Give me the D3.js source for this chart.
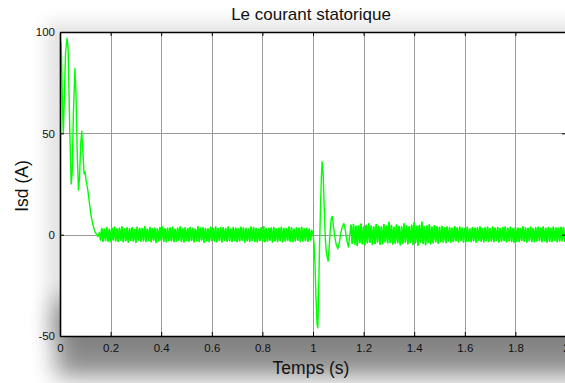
<!DOCTYPE html>
<html>
<head>
<meta charset="utf-8">
<script src="https://cdn.jsdelivr.net/npm/d3@7"></script>
<style>
  html, body { margin: 0; padding: 0; background: #fff; }
  svg { display: block; font-family: "Liberation Sans", Arial, sans-serif; }
</style>
</head>
<body>
<svg id="chart" width="565" height="383"></svg>
<script>
// Axis ticks
const xTicks = [0, 0.2, 0.4, 0.6, 0.8, 1, 1.2, 1.4, 1.6, 1.8, 2];
const xTickLabels = ["0", "0.2", "0.4", "0.6", "0.8", "1", "1.2", "1.4", "1.6", "1.8", "2"];
const yTicks = [-50, 0, 50, 100];
const yTickLabels = ["-50", "0", "50", "100"];
const xGrid = [0.2, 0.4, 0.6, 0.8, 1, 1.2, 1.4, 1.6, 1.8];
const yGrid = [0, 50];

// Start-up transient: time (s) and Isd (A)
const startT = [0, 0.0005, 0.003, 0.006, 0.010, 0.013, 0.016, 0.022, 0.028, 0.032, 0.038,
  0.044, 0.048, 0.053, 0.059, 0.063, 0.068, 0.073, 0.077, 0.082, 0.086, 0.090, 0.095,
  0.099, 0.104, 0.110, 0.116, 0.122, 0.128, 0.134, 0.140, 0.146, 0.150, 0.155];
const startV = [0, 73, 95, 88, 62, 50, 63, 90, 97, 92, 55,
  25, 30, 60, 82, 70, 40, 22, 28, 45, 51, 42, 30,
  31, 26, 22, 16, 10, 6, 3, 1, 0, -1, 1];

// Steady-state ripple, sampled every 5 ms
const rippleStep = 0.005;
const rippleAStart = 0.16;
const rippleA = [
  -2.6, 3.0, -3.2, 2.7, -2.9, 3.5, -3.1, 2.6, -3.4, 3.2, -2.5, 3.6,
  -3.0, 2.9, -3.3, 3.1, -2.7, 3.8, -3.5, 2.8, -2.9, 3.3, -3.6, 3.0,
  -2.8, 3.4, -3.1, 2.5, -3.7, 3.6, -2.6, 3.1, -3.2, 2.9, -3.0, 3.9,
  -3.3, 2.7, -2.9, 3.5, -3.4, 3.0, -2.7, 3.2, -3.8, 2.8, -3.1, 3.4,
  -2.6, 3.7, -3.2, 2.9, -3.5, 3.1, -2.8, 3.3, -3.0, 3.6, -3.4, 2.6,
  -3.1, 3.2, -2.7, 3.8, -3.3, 2.9, -3.6, 3.4, -2.9, 3.0, -3.2, 3.5,
  -2.8, 3.1, -3.5, 2.7, -3.0, 3.9, -3.3, 3.2, -2.6, 3.4, -3.7, 3.0,
  -3.0, 2.8, -3.4, 3.6, -2.9, 3.1, -3.1, 3.7, -3.5, 2.9, -2.8, 3.3,
  -3.6, 3.4, -2.7, 3.0, -3.2, 3.8, -3.0, 2.7, -3.3, 3.5, -2.9, 3.2,
  -3.4, 2.9, -3.1, 3.6, -2.6, 3.3, -3.7, 3.1, -3.0, 2.8, -3.2, 3.7,
  -2.9, 3.5, -3.3, 3.0, -3.5, 2.7, -2.8, 3.4, -3.1, 3.9, -3.4, 3.0,
  -3.2, 3.1, -2.7, 3.3, -3.6, 3.5, -3.0, 2.8, -3.3, 3.2, -2.9, 3.6,
  -3.5, 3.0, -3.1, 2.9, -2.8, 3.7, -3.2, 3.4, -3.4, 2.6, -3.0, 3.3,
  -2.7, 3.2, -3.3, 3.6, -3.1, 2.9, -2.9, 3.1, -3.2, 2.7, -2.6, 2.2];

// Load step response around t = 1 s
const stepT = [1.000, 1.004, 1.008, 1.012, 1.016, 1.019, 1.022, 1.026, 1.030, 1.033, 1.036,
  1.040, 1.044, 1.048, 1.052, 1.056, 1.060, 1.064, 1.068, 1.072, 1.076, 1.080, 1.086,
  1.092, 1.098, 1.104, 1.110, 1.116, 1.122, 1.128, 1.134, 1.140];
const stepV = [0, -4, -15, -32, -44, -46, -30, -5, 15, 28, 36,
  30, 15, 0, -8, -11, -13, -6, 2, 8, 9, 5, -1,
  -5, -7, -4, 1, 4, 5.5, 2, -3, -6];

const rippleBStart = 1.15;
const rippleB = [
  4.8, -4.2, 5.0, -4.6, 4.1, -5.3, 4.4, -3.9, 5.2, -4.4, 3.8, -4.9,
  4.6, -4.0, 5.4, -3.7, 4.3, -4.8, 3.9, -4.3, 5.0, -3.6, 4.1, -4.7,
  3.7, -4.4, 4.9, -3.5, 4.2, -4.0, 6.0, -3.8, 4.5, -4.6, 3.6, -4.1,
  4.7, -3.9, 4.0, -5.0, 3.8, -4.2, 5.3, -3.6, 4.4, -4.5, 3.9, -3.8,
  4.6, -4.7, 5.8, -4.0, 4.1, -5.2, 4.5, -3.7, 6.1, -4.3, 3.8, -4.9,
  4.2, -3.8, 4.9, -4.5, 3.7, -4.0, 4.4, -3.5, 3.9, -4.2, 3.6, -3.4,
  4.0, -3.6, 3.4, -3.9, 3.8, -3.2, 3.5, -3.7, 3.1, -3.4, 3.9, -3.0,
  3.3, -3.5, 3.7, -2.9, 3.2, -3.6, 3.0, -3.3, 3.6, -3.1, 2.8, -3.4,
  3.5, -3.0, 3.1, -3.7, 3.4, -2.8, 3.8, -3.2, 3.0, -3.5, 3.3, -2.9,
  3.6, -3.3, 2.9, -3.1, 3.7, -3.4, 3.2, -2.8, 3.5, -3.6, 3.0, -3.2,
  3.4, -2.9, 3.8, -3.5, 3.1, -3.0, 3.6, -3.3, 2.9, -3.7, 3.5, -3.1,
  3.2, -3.4, 3.0, -2.8, 3.9, -3.2, 3.3, -3.6, 3.1, -3.0, 3.7, -3.3,
  2.9, -3.5, 3.4, -3.1, 3.6, -2.9, 3.2, -3.4, 3.8, -3.0, 3.1, -3.6,
  3.5, -3.2, 3.0, -3.3, 3.7, -2.8, 3.3, -3.5, 3.2, -3.1, 3.6, -2.9,
  3.4, -3.2, 3.0];

const svg = d3.select("#chart");
const plot = { left: 60, right: 566, top: 32, bottom: 336 };

const x = d3.scaleLinear().domain([0, 2]).range([plot.left, plot.right]);
const y = d3.scaleLinear().domain([-50, 100]).range([plot.bottom, plot.top]);

// Soft drop shadows behind the figure
const defs = svg.append("defs");
function blurFilter(id, sd) {
  defs.append("filter").attr("id", id)
    .attr("x", "-50%").attr("y", "-50%").attr("width", "200%").attr("height", "200%")
    .append("feGaussianBlur").attr("stdDeviation", sd);
}
blurFilter("softLight", 9);
blurFilter("softDeep", 12);

// faint halo on the left and top
svg.append("rect")
  .attr("x", 46).attr("y", 22).attr("width", 600).attr("height", 318)
  .attr("fill", "#000").attr("opacity", 0.11).attr("filter", "url(#softLight)");
// heavier shadow under the x axis
svg.append("rect")
  .attr("x", 56).attr("y", 300).attr("width", 620).attr("height", 76)
  .attr("fill", "#000").attr("opacity", 0.46).attr("filter", "url(#softDeep)");

// Plot background
svg.append("rect")
  .attr("x", plot.left).attr("y", plot.top)
  .attr("width", plot.right - plot.left).attr("height", plot.bottom - plot.top)
  .attr("fill", "#fff");

defs.append("clipPath").attr("id", "clip").append("rect")
  .attr("x", plot.left).attr("y", plot.top)
  .attr("width", plot.right - plot.left).attr("height", plot.bottom - plot.top);

// Grid
const grid = svg.append("g").attr("stroke", "#9a9a9a").attr("stroke-width", 1);
grid.selectAll("line.gx").data(xGrid).join("line").attr("class", "gx")
  .attr("x1", d => Math.round(x(d)) + 0.5).attr("x2", d => Math.round(x(d)) + 0.5)
  .attr("y1", plot.top).attr("y2", plot.bottom);
grid.selectAll("line.gy").data(yGrid).join("line").attr("class", "gy")
  .attr("x1", plot.left).attr("x2", plot.right)
  .attr("y1", d => Math.round(y(d)) + 0.5).attr("y2", d => Math.round(y(d)) + 0.5);

// Build the trace
const seriesStart = startT.map((t, i) => [t, startV[i]]);
const seriesA = rippleA.map((v, i) => [rippleAStart + i * rippleStep, v]);
const seriesStep = stepT.map((t, i) => [t, stepV[i]]);
const seriesB = rippleB.map((v, i) => [rippleBStart + i * rippleStep, v]);
const trace = seriesStart.concat(seriesA, seriesStep, seriesB);

const line = d3.line().x(d => x(d[0])).y(d => y(d[1]));
const traceG = svg.append("g").attr("clip-path", "url(#clip)");
traceG.append("path").datum(trace)
  .attr("d", line).attr("fill", "none")
  .attr("stroke", "#00ff00").attr("stroke-width", 1.4).attr("stroke-linejoin", "round");
[seriesA, seriesB].forEach(seg => {
  traceG.append("path").datum(seg)
    .attr("d", line).attr("fill", "none")
    .attr("stroke", "#00ff00").attr("stroke-width", 1.6).attr("stroke-linejoin", "round");
});

// Axes
const fmtX = (d, i) => xTickLabels[i];
const fmtY = (d, i) => yTickLabels[i];

const axB = svg.append("g").attr("transform", `translate(0,${plot.bottom})`)
  .call(d3.axisBottom(x).tickValues(xTicks).tickFormat(fmtX)
    .tickSizeInner(-4).tickSizeOuter(0).tickPadding(8));
const axT = svg.append("g").attr("transform", `translate(0,${plot.top})`)
  .call(d3.axisTop(x).tickValues(xTicks).tickFormat("")
    .tickSizeInner(-4).tickSizeOuter(0));
const axL = svg.append("g").attr("transform", `translate(${plot.left},0)`)
  .call(d3.axisLeft(y).tickValues(yTicks).tickFormat(fmtY)
    .tickSizeInner(-4).tickSizeOuter(0).tickPadding(5));
const axR = svg.append("g").attr("transform", `translate(${plot.right},0)`)
  .call(d3.axisRight(y).tickValues(yTicks).tickFormat("")
    .tickSizeInner(-4).tickSizeOuter(0));

[axB, axT, axL, axR].forEach(g => {
  g.select(".domain").attr("stroke", "#000").attr("stroke-width", 1.6);
  g.selectAll(".tick line").attr("stroke", "#000");
  g.selectAll("text").attr("fill", "#111").style("font-size", "11.5px")
    .style("font-family", "'Liberation Sans', Arial, sans-serif");
});

// Redraw the start-up rise over the left spine
traceG.append("path").datum(seriesStart.slice(0, 3))
  .attr("d", line).attr("fill", "none")
  .attr("stroke", "#00ff00").attr("stroke-width", 1.4);

// Titles
svg.append("text").attr("x", 311).attr("y", 20).attr("text-anchor", "middle")
  .style("font-size", "17px").attr("fill", "#111").text("Le courant statorique");
svg.append("text").attr("x", 311).attr("y", 374).attr("text-anchor", "middle")
  .style("font-size", "17.5px").attr("fill", "#111").text("Temps (s)");
svg.append("text").attr("transform", "translate(28,186) rotate(-90)").attr("text-anchor", "middle")
  .style("font-size", "17.5px").attr("fill", "#111").text("Isd (A)");
</script>
</body>
</html>
